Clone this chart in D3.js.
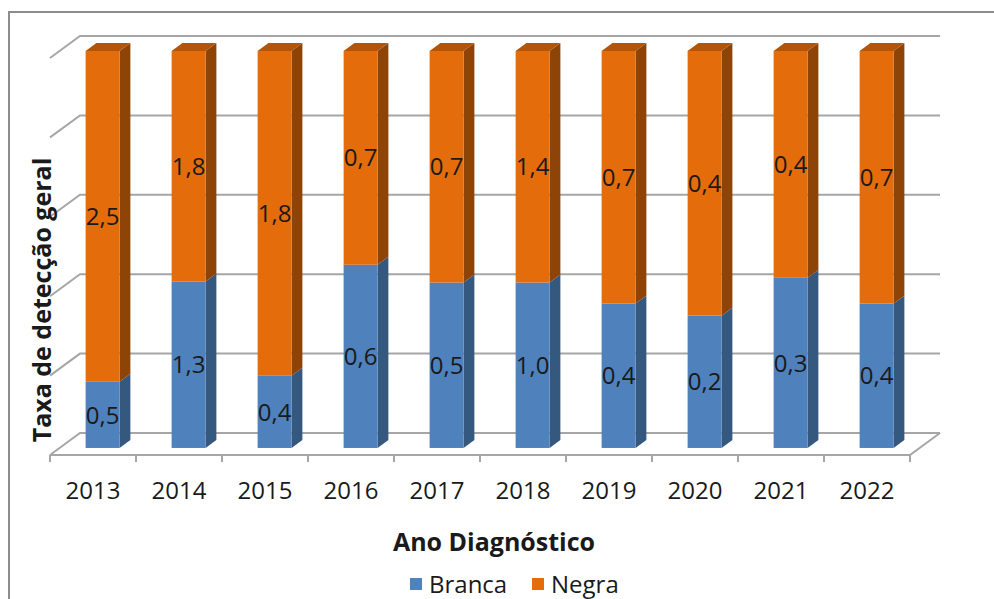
<!DOCTYPE html>
<html>
<head>
<meta charset="utf-8">
<script src="https://cdn.jsdelivr.net/npm/d3@7"></script>
<style>
  html, body { margin: 0; padding: 0; background: #fff; }
  svg { display: block; }
</style>
</head>
<body>
<svg id="chart" width="994" height="599"></svg>
<script>
// Data
const years = ["2013","2014","2015","2016","2017","2018","2019","2020","2021","2022"];
const branca = [0.5, 1.3, 0.4, 0.6, 0.5, 1.0, 0.4, 0.2, 0.3, 0.4];
const negra  = [2.5, 1.8, 1.8, 0.7, 0.7, 1.4, 0.7, 0.4, 0.4, 0.7];
const seriesNames = ["Branca", "Negra"];
const gridTicks = [0, 0.2, 0.4, 0.6, 0.8, 1.0];

const colors = {
  Branca: { front: "#4f81bd", side: "#35587f", top: "#4471a6" },
  Negra:  { front: "#e46c0a", side: "#8f4407", top: "#b35508" }
};

const svg = d3.select("#chart");
const font = "'Open Sans', 'Liberation Sans', Arial, sans-serif";

// Oblique projection: depth d in [0,1] shifts points right and up
const DX = 30, DY = 22;
const proj = (x, y, d) => [x + DX * d, y - DY * d];

// Scales (front edge of the floor)
const x = d3.scaleBand().domain(years).range([50, 910]).paddingInner(0).paddingOuter(0);
const xBar = d3.scaleBand().domain(years).range([50, 910]).paddingInner(0.605).paddingOuter(0.3025);
const y = d3.scaleLinear().domain([0, 1]).range([455, 58]);

// Frame
svg.append("rect")
  .attr("x", 9).attr("y", 12).attr("width", 1000).attr("height", 600)
  .attr("fill", "none").attr("stroke", "#8c8c8c").attr("stroke-width", 2);

const gridColor = "#a6a6a6";
const grid = svg.append("g").attr("stroke", gridColor).attr("stroke-width", 2).attr("fill", "none");

// Back wall gridlines + side wall diagonals
gridTicks.forEach(t => {
  const a = proj(x.range()[0], y(t), 0);
  const b = proj(x.range()[0], y(t), 1);
  const c = proj(x.range()[1], y(t), 1);
  grid.append("path").attr("d", d3.line()([a, b, c]));
});

// Floor front edge and right diagonal
{
  const a = proj(x.range()[0], y(0), 0);
  const b = proj(x.range()[1], y(0), 0);
  const c = proj(x.range()[1], y(0), 1);
  grid.append("path").attr("d", d3.line()([a, b, c]));
}

// Category ticks
const tickPositions = years.map(yr => x(yr)).concat([x.range()[1]]);
tickPositions.forEach(px => {
  grid.append("line")
    .attr("x1", px).attr("x2", px)
    .attr("y1", y(0)).attr("y2", y(0) + 7);
});

// Stacked (100%) data
const rows = years.map((yr, i) => ({ year: yr, Branca: branca[i], Negra: negra[i] }));
const stack = d3.stack().keys(seriesNames).offset(d3.stackOffsetExpand);
const stacked = stack(rows);

const d0 = 0.32, d1 = 0.68;
const bars = svg.append("g");

years.forEach((yr, i) => {
  const bx = xBar(yr), bw = xBar.bandwidth();
  stacked.forEach((layer, li) => {
    const key = layer.key;
    const [v0, v1] = layer[i];
    const c = colors[key];
    const yb = y(v0), yt = y(v1);
    // side face
    const s = [proj(bx + bw, yb, d0), proj(bx + bw, yb, d1), proj(bx + bw, yt, d1), proj(bx + bw, yt, d0)];
    bars.append("path").attr("d", d3.line()(s) + "Z").attr("fill", c.side);
    // front face
    const f0 = proj(bx, yt, d0);
    bars.append("rect")
      .attr("x", f0[0]).attr("y", f0[1])
      .attr("width", bw).attr("height", yb - yt)
      .attr("fill", c.front);
    // top face on the uppermost segment
    if (li === stacked.length - 1) {
      const tp = [proj(bx, yt, d0), proj(bx, yt, d1), proj(bx + bw, yt, d1), proj(bx + bw, yt, d0)];
      bars.append("path").attr("d", d3.line()(tp) + "Z").attr("fill", c.top);
    }
  });
});

// Data labels
const fmt = v => v.toFixed(1).replace(".", ",");
const labels = svg.append("g")
  .attr("font-family", font).attr("font-size", 24).attr("fill", "#1a1a1a")
  .attr("text-anchor", "middle");
years.forEach((yr, i) => {
  const bx = xBar(yr), bw = xBar.bandwidth();
  stacked.forEach(layer => {
    const [v0, v1] = layer[i];
    const val = rows[i][layer.key];
    const p = proj(bx + bw / 2, (y(v0) + y(v1)) / 2, d0);
    labels.append("text")
      .attr("x", p[0]).attr("y", p[1])
      .attr("dy", "0.36em")
      .text(fmt(val));
  });
});

// Category labels
const catLabels = svg.append("g")
  .attr("font-family", font).attr("font-size", 24).attr("fill", "#1a1a1a")
  .attr("text-anchor", "middle");
years.forEach(yr => {
  catLabels.append("text")
    .attr("x", x(yr) + x.bandwidth() / 2).attr("y", 499)
    .text(yr);
});

// Axis titles
svg.append("text")
  .attr("x", 494).attr("y", 551)
  .attr("text-anchor", "middle")
  .attr("font-family", font).attr("font-size", 25).attr("font-weight", "bold")
  .attr("fill", "#1a1a1a")
  .text("Ano Diagnóstico");

svg.append("text")
  .attr("transform", "translate(51,300) rotate(-90)")
  .attr("text-anchor", "middle")
  .attr("font-family", font).attr("font-size", 25).attr("font-weight", "bold")
  .attr("fill", "#1a1a1a")
  .text("Taxa de detecção geral");

// Legend
const legend = svg.append("g").attr("font-family", font).attr("font-size", 24).attr("fill", "#1a1a1a");
const legendItems = [
  { name: "Branca", x: 410 },
  { name: "Negra", x: 532 }
];
legendItems.forEach(it => {
  legend.append("rect")
    .attr("x", it.x).attr("y", 578).attr("width", 12).attr("height", 12)
    .attr("fill", colors[it.name].front);
  legend.append("text")
    .attr("x", it.x + 19).attr("y", 593)
    .text(it.name);
});
</script>
</body>
</html>
